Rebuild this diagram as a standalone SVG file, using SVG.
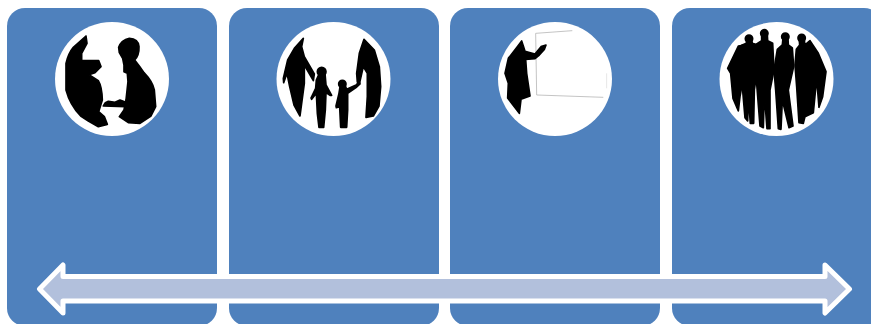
<svg xmlns="http://www.w3.org/2000/svg" width="871" height="324" viewBox="0 0 871 324">
<style>
.panel{fill:#4f81bd}
.disc{fill:#fff}
.sil{fill:#000;stroke:#000;stroke-width:5;stroke-linejoin:round}
.board{fill:none;stroke:#b5b5b5;stroke-width:2.4}
.arrow{fill:#b2c0dc;stroke:#fff;stroke-width:5;stroke-linejoin:round}
</style>
<rect width="871" height="324" fill="#fff"/>
<g id="panel-1">
<rect class="panel" x="7" y="8" width="210" height="318" rx="18"/>
<circle class="disc" cx="112" cy="79" r="57"/>
<g class="sil" transform="translate(40 10) scale(.3333)">
<path d="M138,78 L141,100 L125,130 L125,152 L176,152 L183,170 L165,188 L147,194 L175,212 Q186,230 187,270 L176,305 L193,320 L202,343 L175,350 L145,333 L122,318 Q90,285 78,240 L78,160 Q85,130 100,112 Z"/>
<path d="M236,112 Q244,90 268,85 Q295,86 297,110 Q298,135 284,150 Q300,170 312,188 Q338,215 343,240 L347,290 L333,318 L300,340 L265,338 L238,320 L252,300 L258,270 L264,215 L262,190 L252,185 L252,165 L248,145 L238,128 Z"/>
<path d="M190,288 L196,278 L205,274 L225,277 L240,270 L256,276 L256,290 Z"/>
</g>
</g>
<g id="panel-2">
<rect class="panel" x="229" y="8" width="210" height="318" rx="18"/>
<circle class="disc" cx="333.500" cy="79" r="57"/>
<g class="sil" transform="translate(265 10) scale(.3333)">
<polygon points="115,85 110,110 118,140 148,192 145,212 118,165 118,220 110,280 105,318 87,285 74,230 66,190 56,218 55,205 68,150 88,115"/>
<circle cx="170" cy="185" r="13"/>
<polygon points="163,190 180,190 183,225 200,256 195,256 183,248 181,300 176,352 162,352 157,310 154,250 140,268 138,264 152,235 154,210"/>
<circle cx="232" cy="222" r="11"/>
<polygon points="226,225 240,225 245,238 275,224 282,212 285,222 273,233 248,250 248,300 245,352 227,352 224,290 214,293 213,288 222,250"/>
<polygon points="297,88 328,120 343,170 347,230 342,288 325,318 303,322 307,260 307,190 295,170 283,222 277,216 275,190 283,130"/>
</g>
</g>
<g id="panel-3">
<rect class="panel" x="450" y="8" width="210" height="318" rx="18"/>
<circle class="disc" cx="555" cy="79" r="57"/>
<g transform="translate(485 10) scale(.3333)">
<polyline class="board" points="262,62 152,70 155,255 355,262"/>
<line class="board" x1="365" y1="190" x2="365" y2="235" opacity=".4"/>
<polygon class="sil" points="110,93 115,108 120,124 150,132 168,110 183,105 178,118 163,135 150,146 122,148 125,190 135,258 108,268 103,310 77,276 68,264 70,220 60,190 70,145 97,110"/>
</g>
</g>
<g id="panel-4">
<rect class="panel" x="672" y="8" width="210" height="318" rx="18"/>
<circle class="disc" cx="776.500" cy="79" r="57"/>
<g class="sil" transform="translate(705 10) scale(.3333)">
<polygon points="100,108 118,105 112,220 105,260 100,303 84,265 77,190 68,175"/>
<circle cx="132" cy="86" r="11"/>
<polygon points="125,90 140,90 142,100 155,104 157,180 148,240 146,340 136,340 130,260 128,333 120,323 112,230 110,106 124,100"/>
<circle cx="178" cy="70" r="11"/>
<polygon points="170,75 187,75 188,92 203,100 207,180 195,240 195,356 186,356 178,250 175,353 165,348 155,220 155,102 170,92"/>
<circle cx="241" cy="80" r="11"/>
<polygon points="234,85 249,85 250,105 262,114 266,170 250,240 264,348 252,353 232,270 228,358 220,356 212,240 207,180 217,118 232,105"/>
<circle cx="290" cy="84" r="11"/>
<polygon points="283,90 298,90 300,105 315,92 340,130 363,185 353,260 342,292 335,205 325,308 300,320 295,340 282,338 275,230 270,165 274,118 284,105"/>
</g>
</g>
<g id="connectors">
<polygon class="arrow" points="39.500,289 63,265 63,276.500 825,276.500 825,265 849.500,289 825,313 825,301 63,301 63,313"/>
</g>
</svg>
